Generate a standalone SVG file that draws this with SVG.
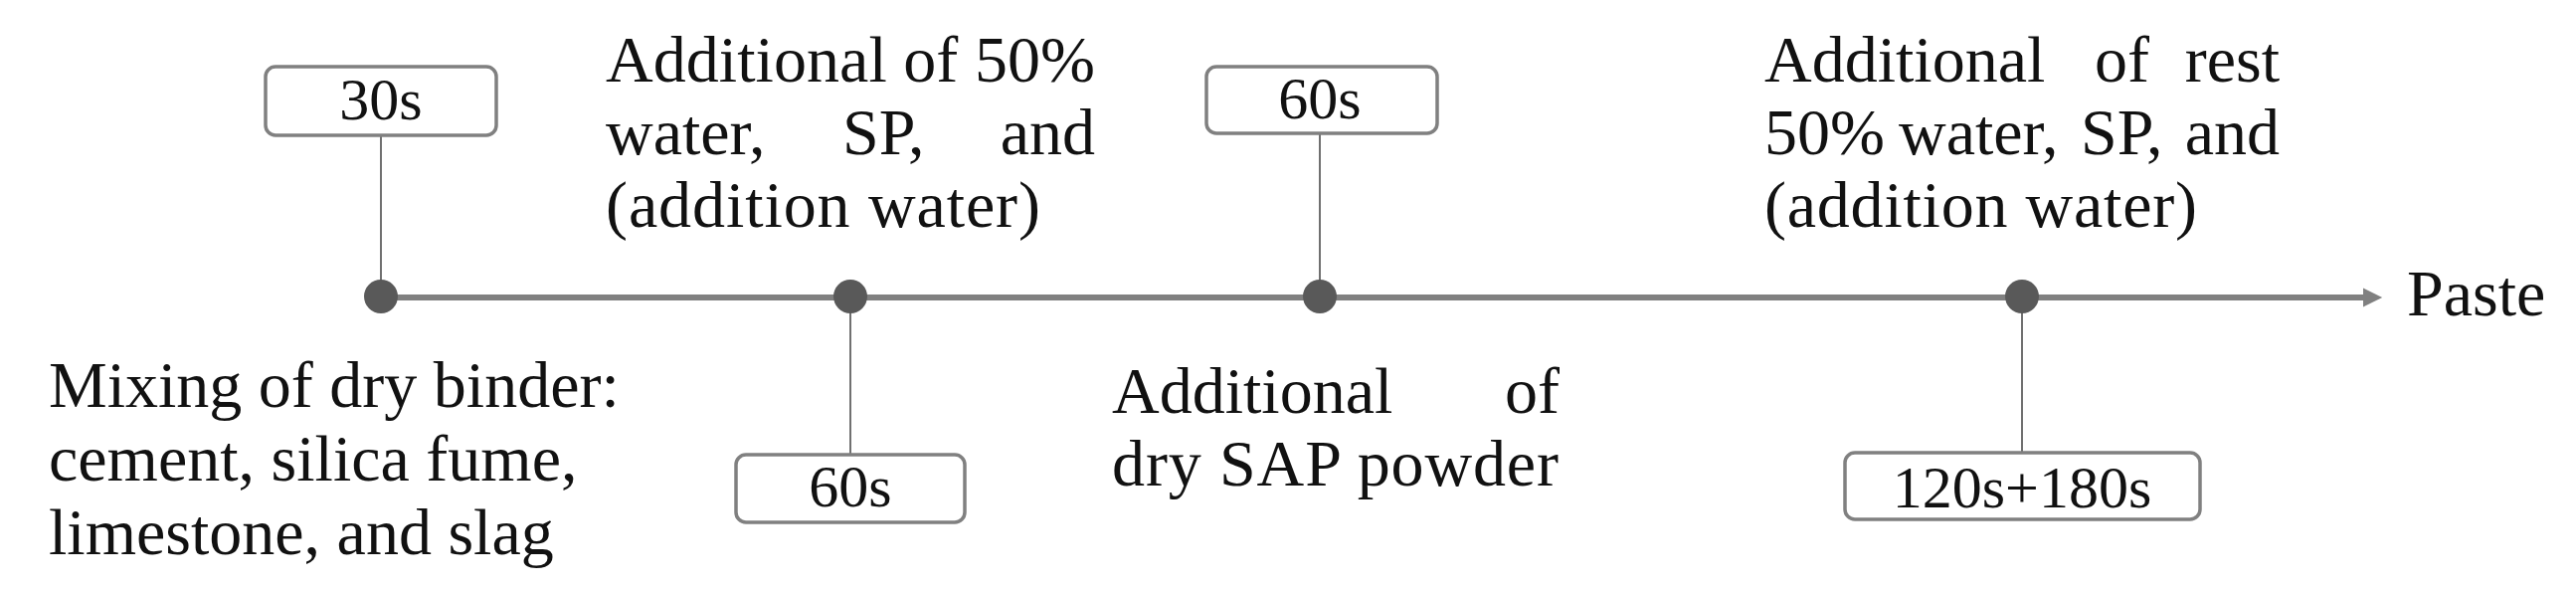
<svg xmlns="http://www.w3.org/2000/svg" width="2590" height="593" viewBox="0 0 2590 593">
<defs>
<style>
.t{font-family:"Liberation Serif","Times New Roman",serif;font-size:66px;fill:#111}
.b{font-family:"Liberation Serif","Times New Roman",serif;font-size:60px;fill:#111;text-anchor:middle}
.box{fill:#fff;stroke:#808080;stroke-width:3.5}
.dot{fill:#595959}
.stem{stroke:#707070;stroke-width:2;fill:none}
.axis{stroke:#808080;stroke-width:6;fill:none}
.e{text-anchor:end}
</style>
<marker id="arr" viewBox="0 0 10 10" refX="0" refY="5" markerWidth="3.6" markerHeight="3.2" markerUnits="strokeWidth" orient="auto">
<path d="M0,0 L10,5 L0,10 Z" fill="#808080"/>
</marker>
</defs>
<rect width="2590" height="593" fill="#fff"/>
<g id="connectors">
<line class="axis" x1="383" y1="299" x2="2376" y2="299" marker-end="url(#arr)"/>
<line class="stem" x1="383" y1="136" x2="383" y2="298"/>
<line class="stem" x1="855" y1="298" x2="855" y2="457"/>
<line class="stem" x1="1327" y1="134" x2="1327" y2="298"/>
<line class="stem" x1="2033" y1="298" x2="2033" y2="455"/>
</g>
<g id="step1">
<circle class="dot" cx="383" cy="298" r="17"/>
<rect class="box" x="267" y="67" width="232" height="69" rx="10"/>
<text class="b" x="383" y="120">30s</text>
<text class="t" x="49" y="409">Mixing of dry binder:</text>
<text class="t" x="49" y="483">cement, silica fume,</text>
<text class="t" x="49" y="557">limestone, and slag</text>
</g>
<g id="step2">
<circle class="dot" cx="855" cy="298" r="17"/>
<rect class="box" x="740" y="457" width="230" height="68" rx="10"/>
<text class="b" x="855" y="509">60s</text>
<text class="t" x="609" y="82" textLength="492" lengthAdjust="spacing">Additional of 50%</text>
<text class="t" x="609" y="155">water,</text>
<text class="t" x="847" y="155">SP,</text>
<text class="t e" x="1101" y="155">and</text>
<text class="t" x="609" y="228" textLength="437" lengthAdjust="spacing">(addition water)</text>
</g>
<g id="step3">
<circle class="dot" cx="1327" cy="298" r="17"/>
<rect class="box" x="1213" y="67" width="232" height="67" rx="10"/>
<text class="b" x="1327" y="119">60s</text>
<text class="t" x="1118" y="415">Additional</text>
<text class="t e" x="1568" y="415">of</text>
<text class="t" x="1118" y="488" textLength="449" lengthAdjust="spacing">dry SAP powder</text>
</g>
<g id="step4">
<circle class="dot" cx="2033" cy="298" r="17"/>
<rect class="box" x="1855" y="455" width="357" height="67" rx="10"/>
<text class="b" x="2033" y="510">120s+180s</text>
<text class="t" x="1774" y="82">Additional</text>
<text class="t" x="2106" y="82">of</text>
<text class="t e" x="2292" y="82">rest</text>
<text class="t" x="1774" y="155">50%</text>
<text class="t" x="1909" y="155">water,</text>
<text class="t" x="2092" y="155">SP,</text>
<text class="t e" x="2292" y="155">and</text>
<text class="t" x="1774" y="228" textLength="435" lengthAdjust="spacing">(addition water)</text>
</g>
<g id="end">
<text class="t" x="2420" y="317">Paste</text>
</g>
</svg>
